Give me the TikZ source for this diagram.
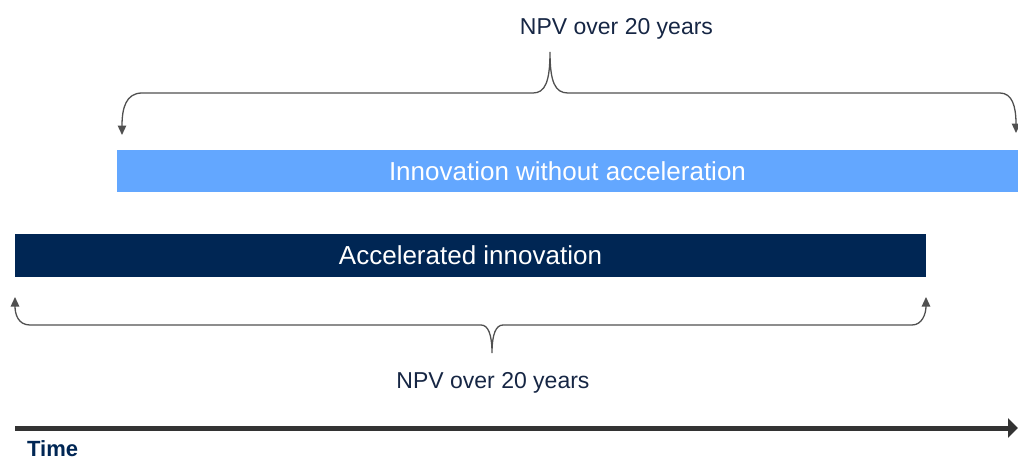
\documentclass[tikz,border=0pt]{standalone}
\usepackage{fontspec}
\setmainfont{Liberation Sans}
\usetikzlibrary{arrows.meta}
\definecolor{lightbar}{RGB}{99,167,255}
\definecolor{navybar}{RGB}{0,38,84}
\definecolor{navytext}{RGB}{22,38,68}
\definecolor{braceline}{RGB}{80,80,80}
\definecolor{timeline}{RGB}{51,51,51}
\begin{document}
\begin{tikzpicture}[x=1pt,y=-1pt,
  barbox/.style={draw=none,inner sep=0pt,text=white,font=\fontsize{26}{30}\selectfont},
  npvlabel/.style={anchor=base,inner sep=0pt,text=navytext,font=\fontsize{23}{27}\selectfont},
  bracepath/.style={draw=braceline,line width=1.3pt,{Triangle[width=8.5pt,length=9.5pt]}-{Triangle[width=8.5pt,length=9.5pt]}},
  timearrow/.style={draw=timeline,line width=5pt,-{Triangle[width=19pt,length=10pt]}}]
  \useasboundingbox (0,0) rectangle (1018,461);

  % bars
  \node[barbox,fill=lightbar,minimum width=901pt,minimum height=42pt] (slow) at (567.5,171) {Innovation without acceleration};
  \node[barbox,fill=navybar,minimum width=911pt,minimum height=43pt] (fast) at (470.5,255.5) {Accelerated innovation};

  % labels
  \node[npvlabel] (npvtop) at (616.5,34) {NPV over 20 years};
  \node[npvlabel] (npvbot) at (493,388) {NPV over 20 years};
  \node[anchor=base west,inner sep=0pt,text=navybar,font=\fontsize{22}{26}\selectfont\bfseries] (time) at (27,456.5) {Time};

  % brace end points
  \coordinate (tl) at (122,135);
  \coordinate (tr) at (1016,133);
  \coordinate (tpeak) at (550,52);
  \coordinate (bl) at (15,297);
  \coordinate (br) at (926,297);
  \coordinate (bpeak) at (492,353);

  % upper brace
  \draw[bracepath] (tl) .. controls (122,108) and (126,93) .. (142,93) -- (533,93)
    .. controls (545,93) and (550,82) .. (tpeak)
    .. controls (550,82) and (555,93) .. (568,93) -- (1000,93)
    .. controls (1012,93) and (1016,106) .. (tr);

  % lower brace
  \draw[bracepath] (bl) .. controls (15,314) and (18,325) .. (30,325) -- (481,325)
    .. controls (488,325) and (492,334) .. (bpeak)
    .. controls (492,334) and (496,325) .. (503,325) -- (912,325)
    .. controls (922,325) and (926,314) .. (br);

  % time axis
  \coordinate (t0) at (15,428);
  \coordinate (t1) at (1018,428);
  \draw[timearrow] (t0) -- (t1);
\end{tikzpicture}
\end{document}
